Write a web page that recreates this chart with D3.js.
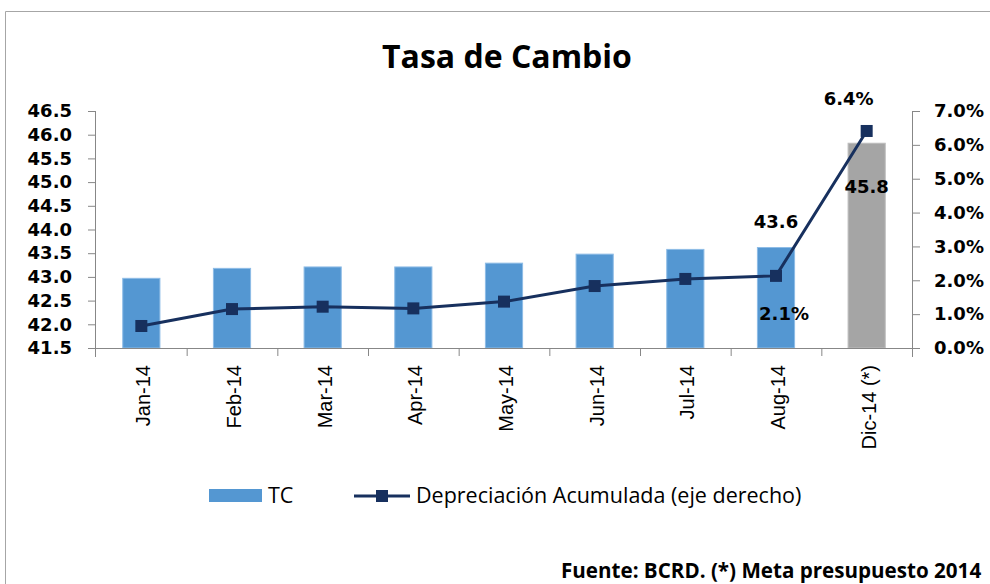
<!DOCTYPE html>
<html>
<head>
<meta charset="utf-8">
<script src="https://cdn.jsdelivr.net/npm/d3@7"></script>
<style>
  body { margin: 0; background: #fff; }
  svg { display: block; }
  .tick text { font-family: "DejaVu Sans", Verdana, sans-serif; font-weight: bold; font-size: 18px; fill: #000; }
  .domain, .tick line { stroke: #878787; }
</style>
</head>
<body>
<svg id="chart" width="990" height="584"></svg>
<script>
// ---- données ----
let categories = ["Jan-14", "Feb-14", "Mar-14", "Apr-14", "May-14", "Jun-14", "Jul-14", "Aug-14", "Dic-14 (*)"];
let tcValues = [42.97, 43.18, 43.21, 43.21, 43.29, 43.48, 43.58, 43.62, 45.82];
let deprecValues = [0.0065, 0.0115, 0.0122, 0.0117, 0.0137, 0.0183, 0.0204, 0.0213, 0.0641];
let leftTicks = [41.5, 42.0, 42.5, 43.0, 43.5, 44.0, 44.5, 45.0, 45.5, 46.0, 46.5];
let rightTicks = [0, 0.01, 0.02, 0.03, 0.04, 0.05, 0.06, 0.07];

// étiquettes de données affichées (index, texte)
let tcLabels = [{ i: 7, text: "43.6" }, { i: 8, text: "45.8" }];
let deprecLabels = [{ i: 7, text: "2.1%" }, { i: 8, text: "6.4%" }];

let svg = d3.select("#chart");

// cadre
svg.append("path")
  .attr("d", "M5.5,584 V11.5 H990")
  .attr("fill", "none")
  .attr("stroke", "#a6a6a6")
  .attr("stroke-width", 1);

// titre
svg.append("text")
  .attr("x", 507).attr("y", 68)
  .attr("text-anchor", "middle")
  .style("font-family", "'Open Sans', sans-serif")
  .style("font-weight", "bold")
  .style("font-size", "32px")
  .text("Tasa de Cambio");

let plotLeft = 96, plotRight = 912, plotTop = 111, plotBottom = 348;

let x = d3.scaleBand().domain(categories).range([plotLeft, plotRight]).padding(0);
let xEdges = d3.scaleLinear().domain([0, categories.length]).range([plotLeft, plotRight]);
let y = d3.scaleLinear().domain([41.5, 46.5]).range([plotBottom, plotTop]);
let y2 = d3.scaleLinear().domain([0, 0.07]).range([plotBottom, plotTop]);

let barW = x.bandwidth() * 0.41;
let cx = d => x(d) + x.bandwidth() / 2;

// barres TC
svg.append("g")
  .selectAll("rect")
  .data(tcValues)
  .join("rect")
  .attr("x", (d, i) => cx(categories[i]) - barW / 2)
  .attr("y", d => y(d))
  .attr("width", barW)
  .attr("height", d => y(41.5) - y(d))
  .attr("fill", (d, i) => i === categories.length - 1 ? "#a5a5a5" : "#5497d2")
  .attr("stroke", (d, i) => i === categories.length - 1 ? "#bdbdbd" : "#8ebce6")
  .attr("stroke-width", 1);

// axes
svg.append("g")
  .attr("transform", `translate(${plotLeft},0)`)
  .call(d3.axisLeft(y).tickValues(leftTicks).tickFormat(d3.format(".1f")).tickSize(8).tickPadding(16))
  .call(g => g.select(".domain").attr("d", `M-0.5,${plotTop}V${plotBottom + 9}`));

svg.append("g")
  .attr("transform", `translate(${plotRight},0)`)
  .call(d3.axisRight(y2).tickValues(rightTicks).tickFormat(d3.format(".1%")).tickSize(8).tickPadding(14))
  .call(g => g.select(".domain").attr("d", `M0.5,${plotTop}V${plotBottom + 9}`));

svg.append("g")
  .attr("transform", `translate(0,${plotBottom})`)
  .call(d3.axisBottom(xEdges).tickValues(d3.range(1, categories.length)).tickFormat("").tickSize(8))
  .call(g => g.select(".domain").attr("d", `M${plotLeft},0.5H${plotRight}`));

// étiquettes de catégories (verticales)
svg.append("g")
  .selectAll("text")
  .data(categories)
  .join("text")
  .attr("transform", d => `translate(${cx(d) + 2},365) rotate(-90)`)
  .attr("text-anchor", "end")
  .attr("dy", "0.35em")
  .style("font-family", "'Liberation Sans', Arial, sans-serif")
  .style("font-size", "20px")
  .text(d => d);

// ligne dépréciation
let line = d3.line()
  .x((d, i) => cx(categories[i]))
  .y(d => y2(d));

svg.append("path")
  .datum(deprecValues)
  .attr("d", line)
  .attr("fill", "none")
  .attr("stroke", "#17305e")
  .attr("stroke-width", 3);

svg.append("g")
  .selectAll("rect")
  .data(deprecValues)
  .join("rect")
  .attr("x", (d, i) => cx(categories[i]) - 6)
  .attr("y", d => y2(d) - 6)
  .attr("width", 12)
  .attr("height", 12)
  .attr("fill", "#17305e");

// étiquettes de données
let labelStyle = sel => sel
  .attr("text-anchor", "middle")
  .style("font-family", "'DejaVu Sans', Verdana, sans-serif")
  .style("font-weight", "bold")
  .style("font-size", "18px");

let tcOffsets = [{ dx: 0, dy: -20 }, { dx: 0, dy: 50 }];
svg.append("g")
  .selectAll("text")
  .data(tcLabels)
  .join("text")
  .attr("x", (d, k) => cx(categories[d.i]) + tcOffsets[k].dx)
  .attr("y", (d, k) => y(tcValues[d.i]) + tcOffsets[k].dy)
  .call(labelStyle)
  .text(d => d.text);

let dpOffsets = [{ dx: 8, dy: 44 }, { dx: -18, dy: -26 }];
svg.append("g")
  .selectAll("text")
  .data(deprecLabels)
  .join("text")
  .attr("x", (d, k) => cx(categories[d.i]) + dpOffsets[k].dx)
  .attr("y", (d, k) => y2(deprecValues[d.i]) + dpOffsets[k].dy)
  .call(labelStyle)
  .text(d => d.text);

// légende
let legend = svg.append("g").style("font-family", "'Open Sans', sans-serif").style("font-size", "21.5px");
legend.append("rect").attr("x", 209).attr("y", 489).attr("width", 53).attr("height", 13).attr("fill", "#5497d2");
legend.append("text").attr("x", 268).attr("y", 495).attr("dy", "0.35em").text("TC");
legend.append("line").attr("x1", 354).attr("x2", 410).attr("y1", 496).attr("y2", 496)
  .attr("stroke", "#17305e").attr("stroke-width", 3);
legend.append("rect").attr("x", 376).attr("y", 490).attr("width", 12).attr("height", 12).attr("fill", "#17305e");
legend.append("text").attr("x", 416).attr("y", 495).attr("dy", "0.35em").text("Depreciación Acumulada (eje derecho)");

// source
svg.append("text")
  .attr("x", 561).attr("y", 578)
  .style("font-family", "'Open Sans', sans-serif")
  .style("font-weight", "bold")
  .style("font-size", "20.6px")
  .text("Fuente: BCRD. (*) Meta presupuesto 2014");
</script>
</body>
</html>
